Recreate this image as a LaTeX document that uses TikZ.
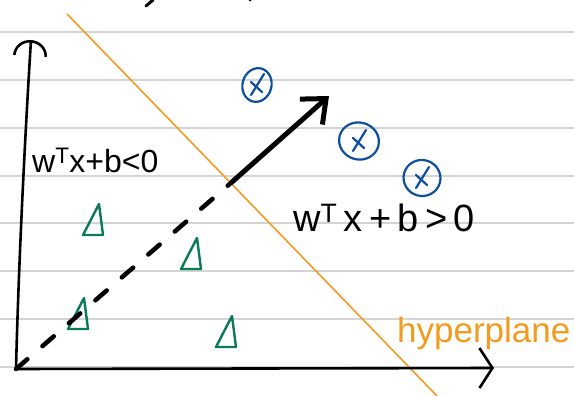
\documentclass[tikz,border=0pt]{standalone}
\usepackage{fontspec}
\setmainfont{Liberation Sans}
\usetikzlibrary{arrows.meta,shapes.geometric}
\definecolor{figRule}{HTML}{D4D4D4}
\definecolor{figHyp}{HTML}{F39B1F}
\definecolor{figPos}{HTML}{0D4F9C}
\definecolor{figNeg}{HTML}{0B7A5C}
\definecolor{figInk}{HTML}{000000}

\begin{document}
\begin{tikzpicture}[x=1pt,y=-1pt,
    posx/.style={draw=figPos,line width=2.2pt,ellipse,inner sep=0pt},
    posmark/.style={figPos,line width=2.2pt,line cap=round},
    negtri/.style={draw=figNeg,line width=2.4pt,line join=round,line cap=round},
    axis/.style={figInk,line width=2.6pt,line cap=round}]
    % ruled page
    \fill[white] (0,0) rectangle (574,396);
    \useasboundingbox (0,0) rectangle (574,396);
    \foreach \ry in {32,80,128,176,223,271,319,367}
      \draw[figRule,line width=1.4pt] (0,\ry) -- (574,\ry);
    % bits of ink cut off at the top edge
    \draw[figInk,line width=3pt,line cap=round] (146,6) -- (153,0);
    \fill[figInk] (250,0) circle (1.5pt);
    % points
    \coordinate (O) at (16,369);
    \coordinate (Ytop) at (31,40);
    \coordinate (Xend) at (494,368);
    \coordinate (HypA) at (67,14);
    \coordinate (HypB) at (437,396);
    \coordinate (H) at (232,182);
    \coordinate (Wtip) at (329,96);
    % hyperplane
    \draw[figHyp,line width=1.6pt] (HypA) -- (HypB);
    % axes
    \draw[axis,-{Arc Barb[length=16pt,width=34pt]}] (O) .. controls (19,250) and (26,120) .. (Ytop);
    \draw[axis,-{Straight Barb[length=13pt,width=40pt]}] (O) -- (Xend);
    % negative samples
    \foreach \tx/\ty in {83/235,181/269,68/329,216/347}
      \draw[negtri] (\tx,\ty) -- ++(16,-31) -- ++(4,31) -- cycle;
    % normal vector w, dashed up to the hyperplane
    \draw[figInk,line width=4.5pt,line cap=round,dash pattern=on 15pt off 20pt] (O) -- (H);
    \draw[figInk,line width=5pt,line cap=round,-{Straight Barb[length=20pt,width=34pt]}] (H) -- (Wtip);
    % positive samples
    \node[posx,minimum width=29pt,minimum height=34pt,rotate=-15] (p1) at (257,85) {};
    \node[posx,minimum width=40pt,minimum height=37pt,rotate=-15] (p2) at (359,141) {};
    \node[posx,minimum width=37pt,minimum height=36pt,rotate=-15] (p3) at (422,178) {};
    \foreach \p in {p1,p2,p3} {
      \draw[posmark] ([shift={(7,-11)}]\p.center) -- ([shift={(-6,10)}]\p.center);
      \draw[posmark] ([shift={(-6,-3)}]\p.center) -- ([shift={(5,7)}]\p.center);
    }
    % labels
    \node[anchor=base west,inner sep=0pt,font=\fontsize{32}{34}\selectfont] (negLbl) at (32,173) {w\textsuperscript{T}x+b<0};
    \node[anchor=base west,inner sep=0pt,font=\fontsize{38}{40}\selectfont] (posLbl) at (293,232) {w\textsuperscript{T}\,x\,+\,b\,>\,0};
    \node[anchor=base west,inner sep=0pt,text=figHyp,font=\fontsize{35}{37}\selectfont] (hypLbl) at (397,342) {hyperplane};
\end{tikzpicture}
\end{document}
